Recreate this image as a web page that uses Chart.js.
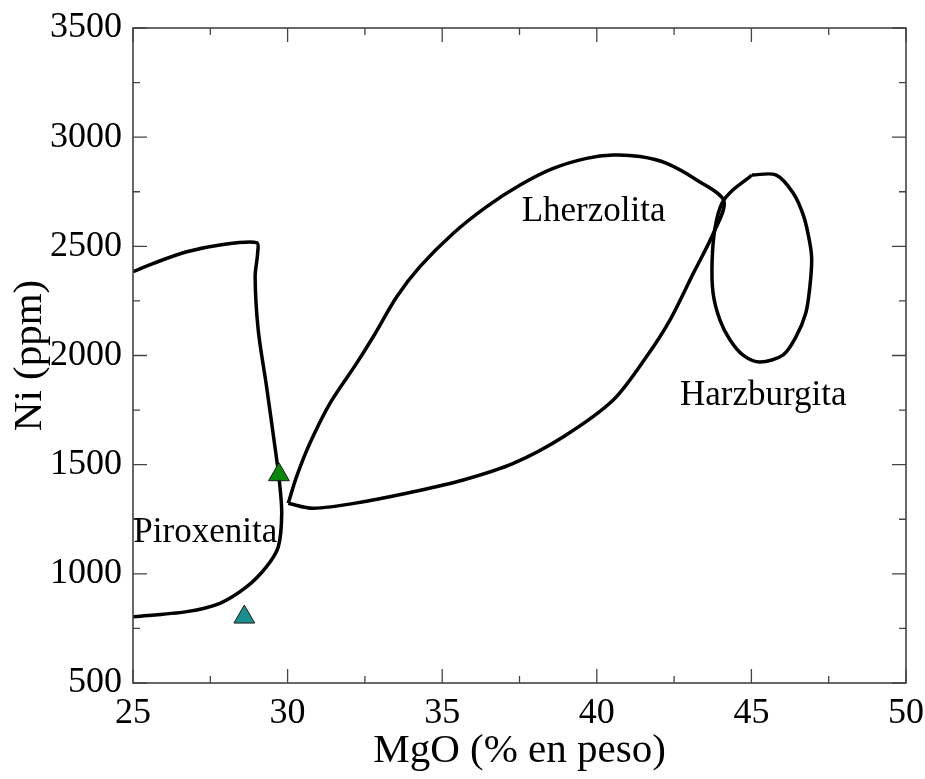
<!DOCTYPE html>
<html>
<head>
<meta charset="utf-8">
<script src="https://cdn.jsdelivr.net/npm/chart.js@4.4.0/dist/chart.umd.min.js"></script>
<style>
  html, body { margin: 0; padding: 0; background: #fff; }
  #wrap { width: 925px; height: 779px; }
</style>
</head>
<body>
<div id="wrap"><canvas id="grafico" width="925" height="779"></canvas></div>
<script>
// Campo Piroxenita (curva abierta)
const piroxMgo = [25.0, 25.66, 26.74, 27.81, 29.0, 29.03, 28.95, 29.05, 29.32, 29.59, 29.73, 29.81, 29.70, 29.32, 28.68, 27.81, 26.74, 25.06, 25.0];
const piroxNi  = [2384, 2422, 2475, 2506, 2517, 2468, 2361, 2117, 1857, 1582, 1430, 1277, 1124, 1033, 941, 865, 827, 804, 805];

// Campo Lherzolita (lazo cerrado)
const lherzMgo = [30.02, 30.83, 32.45, 34.07, 35.68, 37.30, 38.92, 40.53, 41.61, 42.37, 43.12, 43.77, 44.11,
                  43.23, 42.26, 41.40, 40.53, 39.67, 38.59, 37.52, 36.44, 35.36, 34.28, 33.53, 32.77, 32.23, 31.37, 30.72, 30.29, 30.02];
const lherzNi  = [1323, 1300, 1330, 1376, 1430, 1506, 1628, 1796, 1995, 2163, 2376, 2560, 2708,
                  2804, 2880, 2911, 2918, 2903, 2857, 2781, 2682, 2560, 2407, 2269, 2086, 1964, 1781, 1598, 1445, 1323];

// Campo Harzburgita (elipse)
const harzMgo = [45.02, 45.79, 46.35, 46.70, 46.89, 46.95, 46.89, 46.76, 46.44, 46.02, 45.28, 44.73, 44.31, 43.98, 43.76, 43.73, 43.83, 44.05, 44.40, 44.95, 45.02];
const harzNi  = [2827, 2827, 2744, 2634, 2515, 2437, 2314, 2195, 2085, 2002, 1970, 2002, 2071, 2163, 2286, 2437, 2589, 2698, 2758, 2818, 2827];

// Muestras
const muestraMgo = [29.72, 28.60];
const muestraNi  = [1454, 802];
const muestraColor = ["#0c850c", "#1c8e8e"];

// Etiquetas de campos
const camposNombre = ["Lherzolita", "Piroxenita", "Harzburgita"];
const camposMgo = [37.57, 25.01, 42.69];
const camposNi  = [2616, 1147, 1773];

// Ejes
const ejeX = { min: 25, max: 50, paso: 5, titulo: "MgO (% en peso)" };
const ejeY = { min: 500, max: 3500, paso: 500, titulo: "Ni (ppm)" };

const fuente = "'Liberation Serif', 'Times New Roman', serif";

function puntos(xs, ys) {
  return xs.map((x, i) => ({ x: x, y: ys[i] }));
}

// sin relleno extra por etiquetas que sobresalen
function sinRelleno(scale) {
  scale.paddingLeft = 0;
  scale.paddingRight = 0;
  scale.paddingTop = 0;
  scale.paddingBottom = 0;
}

// Marco y marcas hacia adentro en los cuatro lados
const marcoPlugin = {
  id: "marco",
  afterDatasetsDraw(chart) {
    const ctx = chart.ctx;
    const a = chart.chartArea;
    const sx = chart.scales.x, sy = chart.scales.y;
    ctx.save();
    ctx.strokeStyle = "#444";
    ctx.lineWidth = 1.6;
    ctx.strokeRect(a.left, a.top, a.right - a.left, a.bottom - a.top);
    ctx.lineWidth = 1.3;
    for (let v = ejeX.min; v <= ejeX.max + 0.001; v += ejeX.paso / 2) {
      const px = sx.getPixelForValue(v);
      const largo = (Math.abs((v - ejeX.min) % ejeX.paso) < 0.001) ? 14 : 7;
      ctx.beginPath();
      ctx.moveTo(px, a.bottom); ctx.lineTo(px, a.bottom - largo);
      ctx.moveTo(px, a.top); ctx.lineTo(px, a.top + largo);
      ctx.stroke();
    }
    for (let v = ejeY.min; v <= ejeY.max + 0.001; v += ejeY.paso / 2) {
      const py = sy.getPixelForValue(v);
      const largo = (Math.abs((v - ejeY.min) % ejeY.paso) < 0.001) ? 14 : 7;
      ctx.beginPath();
      ctx.moveTo(a.left, py); ctx.lineTo(a.left + largo, py);
      ctx.moveTo(a.right, py); ctx.lineTo(a.right - largo, py);
      ctx.stroke();
    }
    ctx.restore();
  },
  afterDraw(chart) {
    const ctx = chart.ctx;
    const sx = chart.scales.x, sy = chart.scales.y;
    ctx.save();
    ctx.fillStyle = "#000";
    ctx.font = "35px " + fuente;
    ctx.textAlign = "left";
    ctx.textBaseline = "alphabetic";
    camposNombre.forEach((n, i) => {
      ctx.fillText(n, sx.getPixelForValue(camposMgo[i]), sy.getPixelForValue(camposNi[i]));
    });
    ctx.restore();
  }
};

const lineaBase = {
  showLine: true,
  borderColor: "#000",
  borderWidth: 3.5,
  pointRadius: 0,
  pointHoverRadius: 0,
  tension: 0.3,
  fill: false
};

new Chart(document.getElementById("grafico").getContext("2d"), {
  type: "scatter",
  data: {
    datasets: [
      {
        label: "Muestras",
        data: puntos(muestraMgo, muestraNi),
        pointStyle: "triangle",
        pointRadius: 12,
        backgroundColor: muestraColor,
        borderColor: "#1a1a1a",
        borderWidth: 1
      },
      Object.assign({ label: "Piroxenita", data: puntos(piroxMgo, piroxNi) }, lineaBase),
      Object.assign({ label: "Lherzolita", data: puntos(lherzMgo, lherzNi) }, lineaBase),
      Object.assign({ label: "Harzburgita", data: puntos(harzMgo, harzNi) }, lineaBase)
    ]
  },
  options: {
    responsive: false,
    animation: false,
    layout: { padding: { top: 28, right: 19, left: 0, bottom: 0 } },
    plugins: { legend: { display: false }, tooltip: { enabled: false } },
    scales: {
      x: {
        type: "linear",
        min: ejeX.min, max: ejeX.max,
        grid: { display: false, drawTicks: false },
        border: { display: false },
        ticks: { stepSize: ejeX.paso, color: "#000", padding: 9, font: { family: fuente, size: 36 },
                 callback: v => String(v) },
        title: { display: true, text: ejeX.titulo, color: "#000", font: { family: fuente, size: 41 }, padding: { top: 0, bottom: 3 } },
        afterFit(scale) { scale.height = 96; sinRelleno(scale); }
      },
      y: {
        type: "linear",
        min: ejeY.min, max: ejeY.max,
        grid: { display: false, drawTicks: false },
        border: { display: false },
        ticks: { stepSize: ejeY.paso, color: "#000", padding: 11, font: { family: fuente, size: 36 },
                 callback: v => String(v) },
        title: { display: true, text: ejeY.titulo, color: "#000", font: { family: fuente, size: 41 }, padding: { top: 6, bottom: 0 } },
        afterFit(scale) { scale.width = 133; sinRelleno(scale); }
      }
    }
  },
  plugins: [marcoPlugin]
});
</script>
</body>
</html>
